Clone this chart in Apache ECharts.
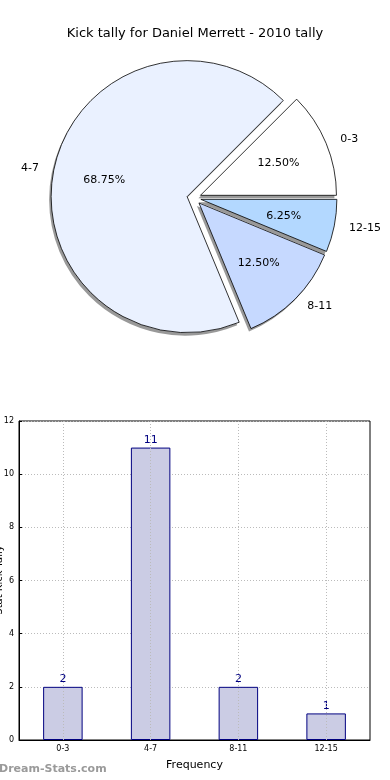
<!DOCTYPE html>
<html>
<head>
<meta charset="utf-8">
<script src="https://cdn.jsdelivr.net/npm/echarts@6/dist/echarts.min.js"></script>
<style>
html,body{margin:0;padding:0;background:#fff;}
#c{width:390px;height:780px;}
</style>
</head>
<body>
<div id="c"></div>
<script>
const titleText = 'Kick tally for Daniel Merrett - 2010 tally';
const categories = ['0-3', '4-7', '8-11', '12-15'];
const counts = [2, 11, 2, 1];
const sliceColors = ['#ffffff', '#eaf1ff', '#c6d9ff', '#b3d8ff'];
const yTicks = [0, 2, 4, 6, 8, 10, 12];
const xAxisName = 'Frequency';
const yAxisName = 'Stat Kick Tally';
const watermark = 'Dream-Stats.com';

const FONT = 'DejaVu Sans';
const total = counts.reduce((a, b) => a + b, 0);
const pieData = categories.map((c, i) => ({
  name: c, value: counts[i], selected: true,
  itemStyle: { color: sliceColors[i] }
}));
const plainData = categories.map((c, i) => ({ name: c, value: counts[i], selected: true }));

const PIE_CENTER = [194, 198];
const PIE_R = 136;
const commonPie = {
  type: 'pie', startAngle: 0, clockwise: false,
  selectedMode: 'multiple', selectedOffset: 7,
  avoidLabelOverlap: false, emphasis: { disabled: true }
};

const chart = echarts.init(document.getElementById('c'), null, { renderer: 'canvas' });
chart.setOption({
  animation: false,
  backgroundColor: '#ffffff',
  textStyle: { fontFamily: FONT },
  title: {
    text: titleText, left: 'center', top: 22,
    textStyle: { fontFamily: FONT, fontSize: 13, fontWeight: 'normal', color: '#000' }
  },
  graphic: [
    {
      type: 'text', left: -1, top: 764,
      style: { text: watermark, fill: '#9a9a9a', font: 'bold 11px "DejaVu Sans"' }
    },
    {
      type: 'text', x: 4, y: 580, rotation: Math.PI / 2,
      style: { text: yAxisName, fill: '#000', font: '10px "DejaVu Sans"', align: 'center', verticalAlign: 'bottom' }
    }
  ],
  grid: {
    left: 19, right: 20, top: 421, bottom: 40,
    outerBoundsMode: 'none', containLabel: false,
    show: true, borderColor: '#000', borderWidth: 1, backgroundColor: 'transparent'
  },
  xAxis: {
    type: 'category', data: categories,
    name: xAxisName, nameLocation: 'middle', nameGap: 20,
    nameTextStyle: { fontFamily: FONT, fontSize: 11, color: '#000' },
    axisLine: { lineStyle: { color: '#000' } },
    axisTick: { show: false },
    axisLabel: { fontFamily: FONT, fontSize: 8, color: '#000', margin: 5 },
    splitLine: { show: false }
  },
  yAxis: {
    type: 'value', min: 0, max: 12, interval: 2,
    axisLine: { show: true, lineStyle: { color: '#000' } },
    axisTick: { show: true, inside: true, length: 3, lineStyle: { color: '#000' } },
    axisLabel: { fontFamily: FONT, fontSize: 8, color: '#000', margin: 5 },
    splitLine: { show: true, lineStyle: { color: '#bbbbbb', type: [1, 2], width: 1 } }
  },
  series: [
    Object.assign({}, commonPie, {
      center: [PIE_CENTER[0] - 2, PIE_CENTER[1] + 3], radius: PIE_R,
      silent: true,
      itemStyle: { color: 'rgba(70,70,70,0.55)', borderWidth: 0 },
      label: { show: false }, labelLine: { show: false },
      data: plainData, z: 1
    }),
    Object.assign({}, commonPie, {
      center: PIE_CENTER, radius: PIE_R,
      itemStyle: { borderColor: '#000', borderWidth: 0.8 },
      label: {
        show: true, position: 'outside', fontFamily: FONT, fontSize: 11, color: '#000',
        formatter: '{b}'
      },
      labelLine: { show: false, length: 10, length2: 0 },
      data: pieData, z: 2
    }),
    Object.assign({}, commonPie, {
      center: PIE_CENTER, radius: [27, PIE_R],
      silent: true,
      itemStyle: { color: 'rgba(0,0,0,0)', borderWidth: 0 },
      label: {
        show: true, position: 'inside', fontFamily: FONT, fontSize: 11, color: '#000',
        formatter: p => (p.value / total * 100).toFixed(2) + '%'
      },
      labelLine: { show: false },
      data: plainData, z: 3
    }),
    {
      type: 'bar',
      data: counts,
      barWidth: '45%',
      itemStyle: { color: '#cbcce4', borderColor: '#000080', borderWidth: 1 },
      label: { show: true, position: 'top', distance: 2, fontFamily: FONT, fontSize: 11, color: '#000080' },
      markLine: {
        silent: true, symbol: 'none', label: { show: false },
        lineStyle: { color: '#bbbbbb', type: [1, 2], width: 1 },
        data: categories.map(c => ({ xAxis: c }))
      }
    }
  ]
});
</script>
</body>
</html>
